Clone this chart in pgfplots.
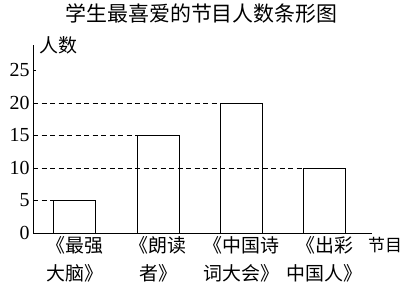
\documentclass[border=0pt]{standalone}
\usepackage{fontspec}
\setmainfont{Liberation Serif}
\newfontfamily\cjk{Noto Sans CJK SC}
\usepackage{pgfplots}
\pgfplotsset{compat=1.18}
\begin{document}
\begin{tikzpicture}
\useasboundingbox (-33bp,-54bp) rectangle (373bp,233bp);
\begin{axis}[
  at={(0,0)}, anchor=south west,
  scale only axis, width=339bp, height=188bp,
  xmin=0.5, xmax=4.568, ymin=0, ymax=28.92,
  axis x line=bottom, axis y line=left,
  axis line style={-, line width=0.9bp},
  ytick={0,5,...,25}, tick align=inside, major tick length=3bp,
  tick style={line width=0.9bp, black},
  xtick={1,2,3,4},
  xticklabels={{《最强\\大脑》},{《朗读\\者》},{《中国诗\\词大会》},{《出彩\\中国人》}},
  x tick style={draw=none},
  xticklabel style={align=center, font=\cjk\fontsize{19}{28}\selectfont, anchor=north, inner sep=0pt, yshift=-3bp},
  yticklabel style={font=\fontsize{20}{20}\selectfont},
  /pgf/number format/assume math mode=true,
  clip=false,
]
\addplot[dashed, dash pattern=on 5bp off 3.5bp, line width=0.8bp] coordinates {(0.5,20) (2.748,20)};
\addplot[dashed, dash pattern=on 5bp off 3.5bp, line width=0.8bp] coordinates {(0.5,15) (1.748,15)};
\addplot[dashed, dash pattern=on 5bp off 3.5bp, line width=0.8bp] coordinates {(0.5,10) (3.748,10)};
\addplot[dashed, dash pattern=on 5bp off 3.5bp, line width=0.8bp] coordinates {(0.5,5) (0.748,5)};
\addplot[ybar, bar width=42bp, draw=black, fill=none, line width=0.9bp] coordinates {(1,5) (2,15) (3,20) (4,10)};
\end{axis}
\node[font=\cjk\fontsize{21}{21}\selectfont] at (168.5bp,219bp) {学生最喜爱的节目人数条形图};
\node[font=\cjk\fontsize{19}{19}\selectfont] at (25bp,188bp) {人数};
\node[font=\cjk\fontsize{17}{17}\selectfont] at (352bp,-12bp) {节目};
\end{tikzpicture}
\end{document}
